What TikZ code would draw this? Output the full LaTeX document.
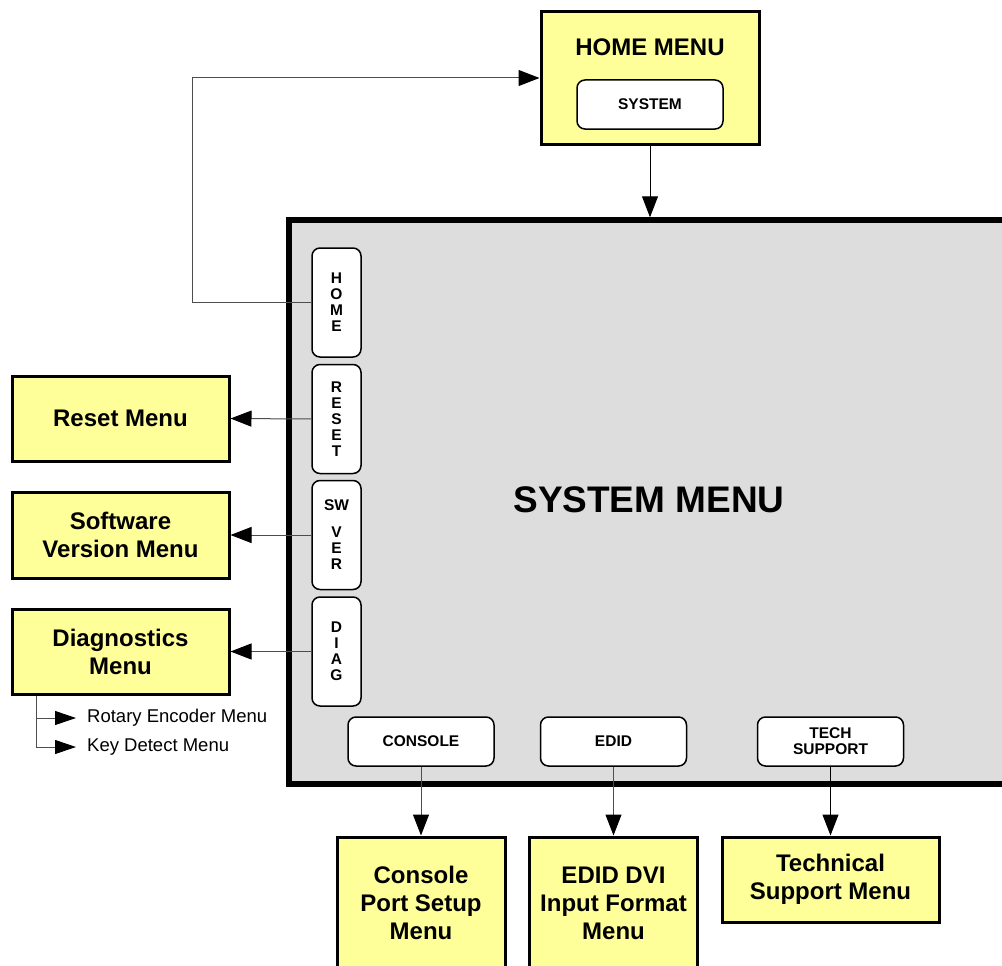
\documentclass[tikz,border=0pt]{standalone}
\usepackage{fontspec}
\setmainfont{Liberation Sans}
\usepackage{xcolor}
\usepackage{tikz}
\usetikzlibrary{shapes,arrows.meta,positioning}
\definecolor{menuyellow}{HTML}{FFFF99}
\definecolor{panelgray}{HTML}{DDDDDD}
\definecolor{wire}{HTML}{4D4D4D}

\begin{document}
\begin{tikzpicture}[
        x=1pt, y=-1pt,
        menu/.style={rectangle, draw=black, line width=3pt, fill=menuyellow, align=center,
                     inner sep=0pt, font=\fontsize{24}{28}\selectfont\bfseries},
        key/.style={rectangle, rounded corners=8pt, draw=black, line width=1.5pt, fill=white,
                     align=center, inner sep=0pt, font=\fontsize{15.5}{16}\selectfont\bfseries},
        sidekey/.style={key, minimum width=49pt, minimum height=109pt},
        bottomkey/.style={key, minimum width=146pt, minimum height=49pt},
        flow/.style={-{Triangle[length=21pt,width=16pt,color=black]}, line width=1pt, wire},
        subflow/.style={-{Triangle[length=21pt,width=14pt,color=black]}, line width=1pt, wire},
        subtext/.style={anchor=west, inner xsep=11pt, inner ysep=0pt, font=\fontsize{18.5}{20}\selectfont}
    ]
        \useasboundingbox[fill=white] (0,0) rectangle (1002,966);
        \clip (0,0) rectangle (1002,966);

        % home menu
        \node[menu, minimum width=218pt, minimum height=132pt] (home) at (650,78) {};
        \node[font=\fontsize{24}{28}\selectfont\bfseries] (hometitle) at (650,47) {HOME MENU};
        \node[bottomkey] (syskey) at (650,104.5) {SYSTEM};

        % system menu panel
        \node[rectangle, draw=black, line width=5.5pt, fill=panelgray, inner sep=0pt,
              minimum width=740pt, minimum height=564pt] (sys) at (659,502) {};
        \node[font=\fontsize{37}{40}\selectfont\bfseries] (systitle) at (649,500) {SYSTEM MENU};
        \draw[flow, black] (home.south) -- (home.south |- sys.north);

        % side keys
        \node[sidekey] (homekey) at (336.5,302.5) {H\\O\\M\\E};
        \node[sidekey] (resetkey) at (336.5,419) {R\\E\\S\\E\\T};
        \node[sidekey] (swkey) at (336.5,535) {SW\\[11pt]V\\E\\R};
        \node[sidekey] (diagkey) at (336.5,651.5) {D\\I\\A\\G};

        % bottom keys
        \node[bottomkey] (conkey) at (421,741.5) {CONSOLE};
        \node[bottomkey] (edidkey) at (613.5,741.5) {EDID};
        \node[bottomkey] (techkey) at (830.5,741.5) {TECH\\SUPPORT};

        % menus on the left
        \node[menu, minimum width=217pt, minimum height=85pt] (reset) at (120.5,418.5) {Reset Menu};
        \node[menu, minimum width=217pt, minimum height=86pt, below=28pt of reset] (swver) {Software\\Version Menu};
        \node[menu, minimum width=217pt, minimum height=85pt, below=28pt of swver] (diag) {Diagnostics\\Menu};

        % menus below
        \node[menu, minimum width=168pt, minimum height=132pt] (conmenu) at (421,903) {Console\\Port Setup\\Menu};
        \node[menu, minimum width=168pt, minimum height=132pt] (edidmenu) at (613.5,903) {EDID DVI\\Input Format\\Menu};
        \node[menu, minimum width=217pt, minimum height=85pt] (techmenu) at (830.5,879.5) {Technical\\Support Menu};

        % diagnostics sub menus
        \node[subtext] (rotary) at (76,718) {Rotary Encoder Menu};
        \node[subtext] (keydet) at (76,747) {Key Detect Menu};

        % connectors
        \coordinate (turn) at (192,78);
        \draw[flow] (homekey.west) -| (turn) -- (home.west);
        \draw[flow] (resetkey.west) -- (reset.east);
        \draw[flow] (swkey.west) -- (swver.east);
        \draw[flow] (diagkey.west) -- (diag.east);
        \draw[flow] (conkey) -- (conmenu);
        \draw[flow] (edidkey) -- (edidmenu);
        \draw[flow, black] (techkey) -- (techmenu);
        \draw[subflow] (diag.south west) ++(25.5,0) |- (rotary.west);
        \draw[subflow] (diag.south west) ++(25.5,0) |- (keydet.west);
    \end{tikzpicture}
\end{document}
